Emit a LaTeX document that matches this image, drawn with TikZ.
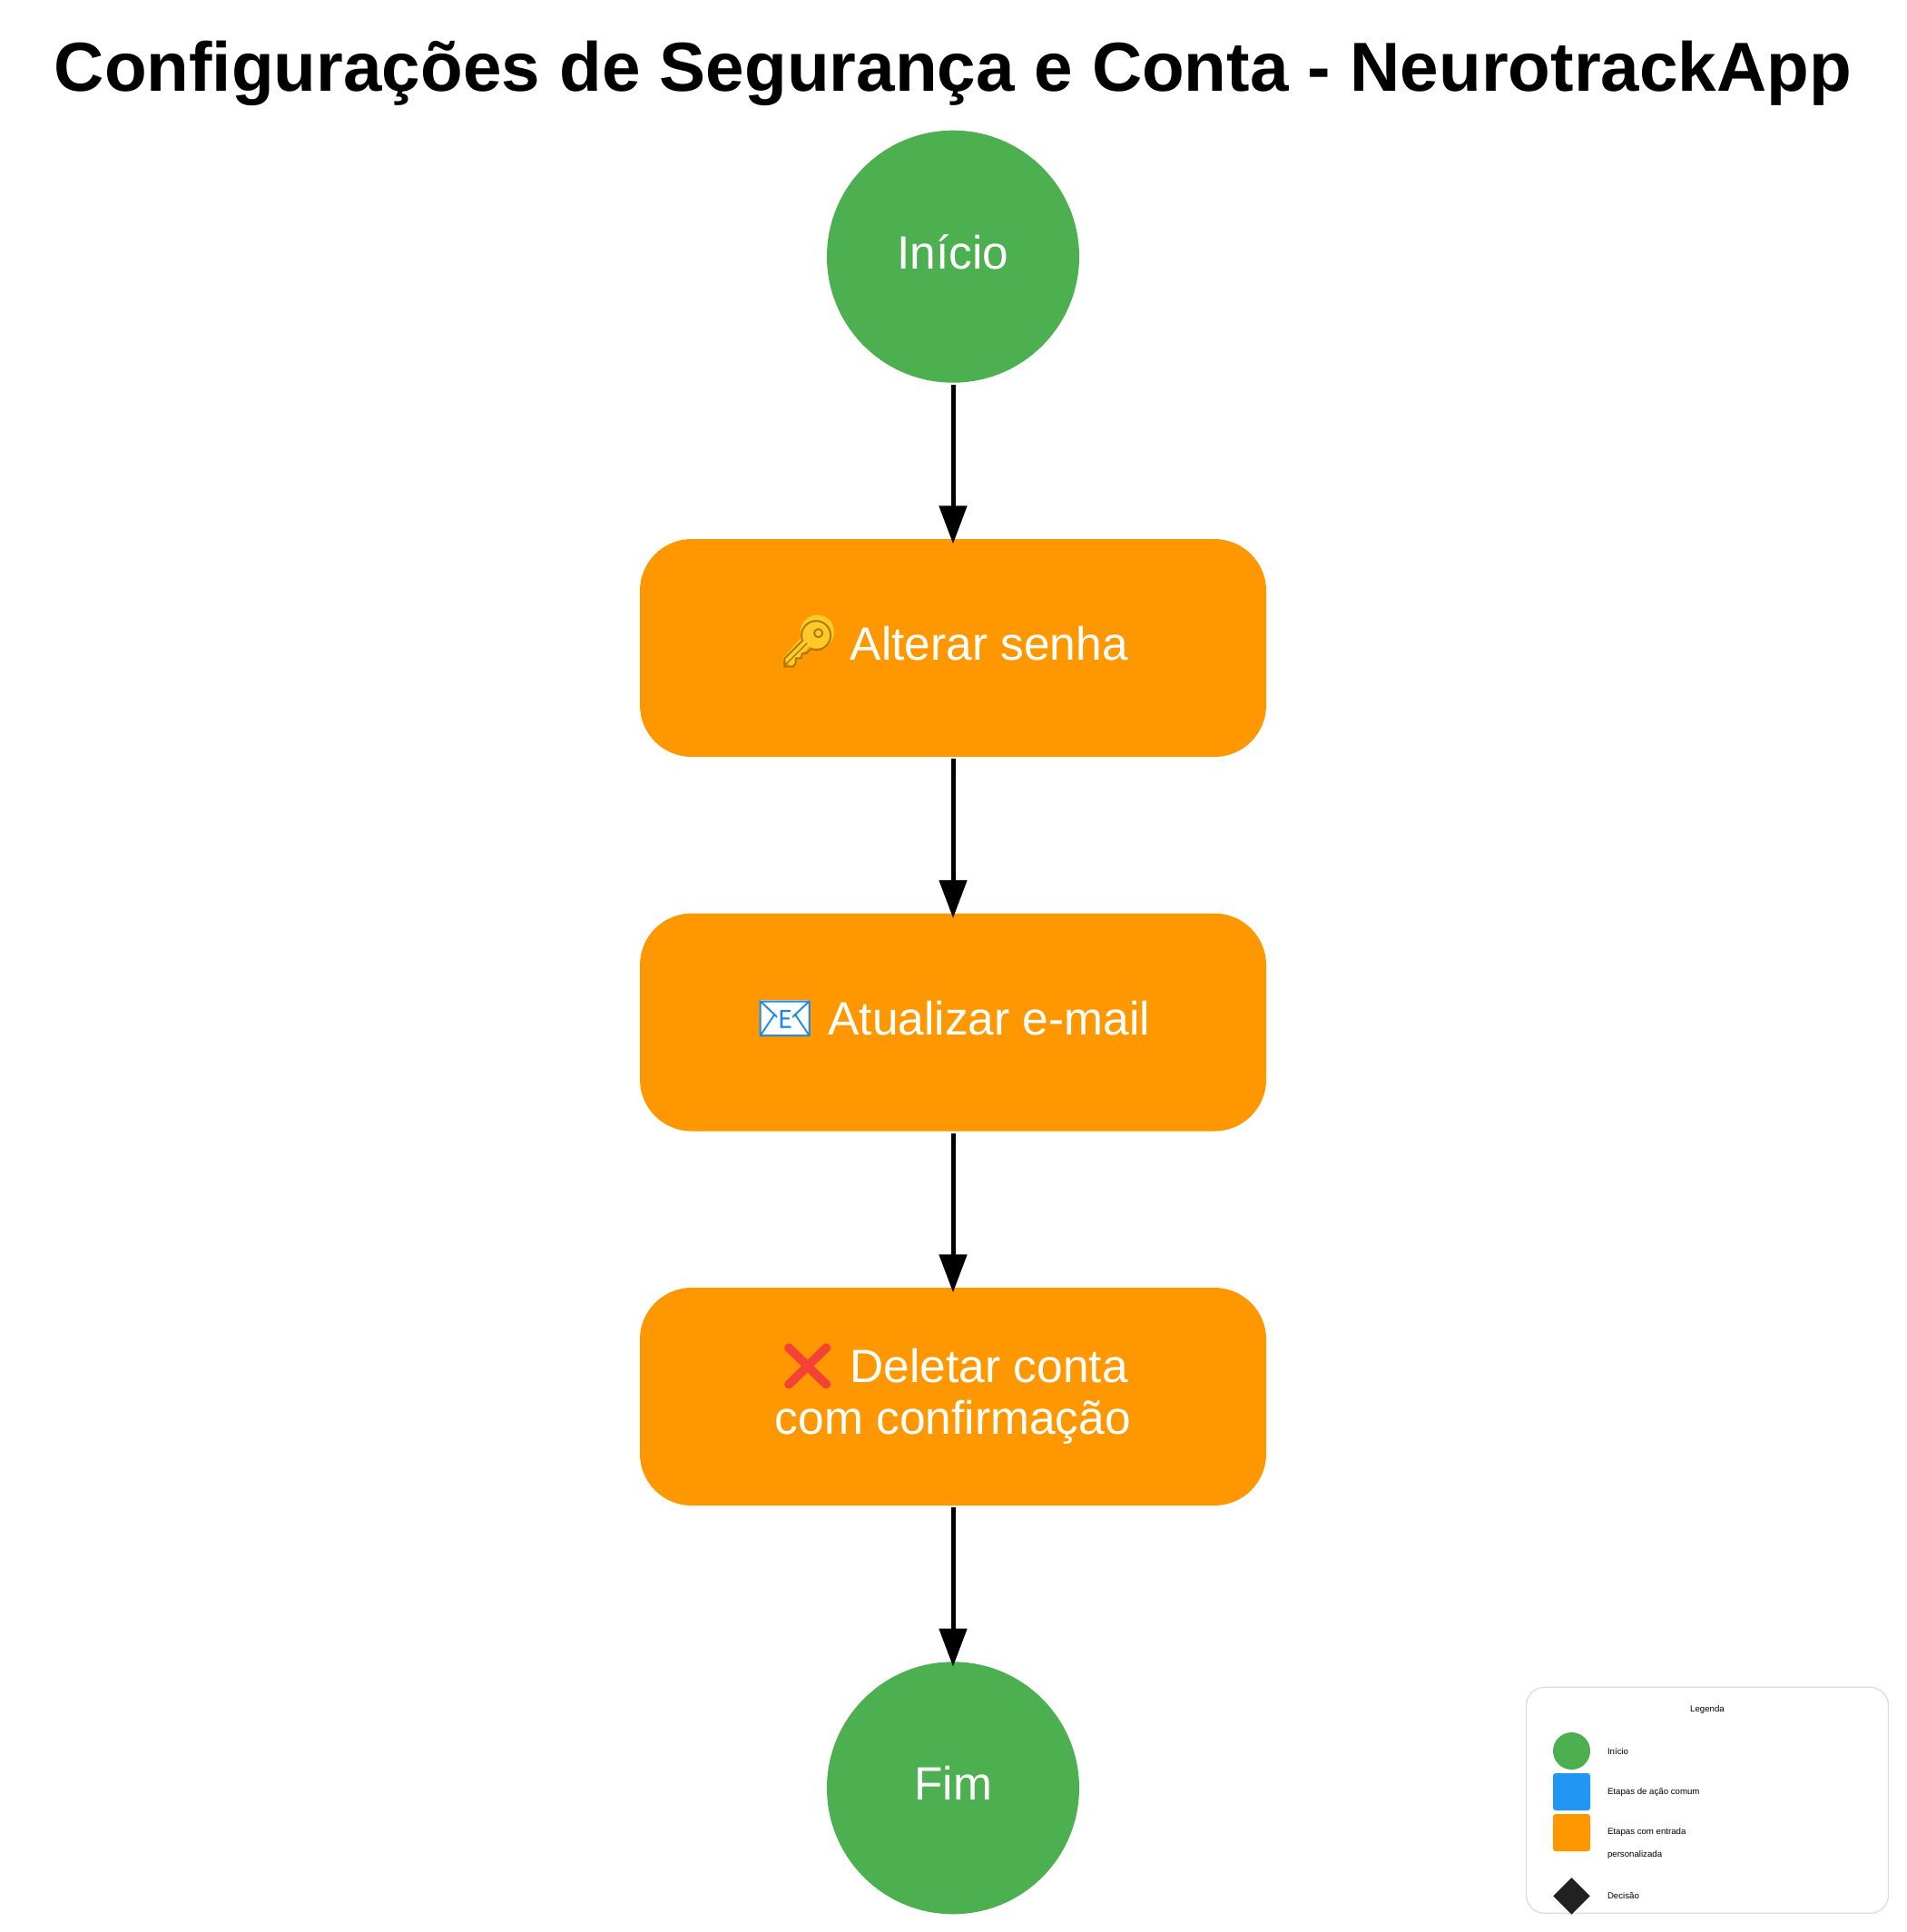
\documentclass[tikz,border=0pt]{standalone}
\usepackage{fontspec}
\setmainfont{Liberation Sans}
\newfontfamily\emojifont{Noto Emoji}
\usetikzlibrary{arrows.meta,shapes.geometric}

\definecolor{startgreen}{HTML}{4CAF50}
\definecolor{inputorange}{HTML}{FF9800}
\definecolor{actionblue}{HTML}{2196F3}
\definecolor{decisionblack}{HTML}{212121}
\definecolor{legendgray}{HTML}{DDDDDD}
\definecolor{keygold}{HTML}{FFCA28}
\definecolor{keydark}{HTML}{A8770A}
\definecolor{mailblue}{HTML}{1E88E5}
\definecolor{crossred}{HTML}{F44336}

\tikzset{
	bignode/.style={text=white,font=\fontsize{14.65pt}{16.2pt}\selectfont,align=center,inner sep=0pt},
	endpoint/.style={bignode,circle,fill=startgreen,minimum size=27.8mm},
	stepbox/.style={bignode,rectangle,fill=inputorange,rounded corners=5.7mm,minimum width=69mm,minimum height=24mm},
	flow/.style={line width=0.5mm,-{Triangle[length=4.2mm,width=3mm]},shorten <=0.16mm,shorten >=-0.6mm},
	legendtext/.style={font=\fontsize{2.75pt}{7.25pt}\selectfont,inner sep=0pt,align=left},
	legendswatch/.style={inner sep=0pt,minimum width=4.1mm,minimum height=4.1mm}
}
\newcommand{\onbase}[1]{\raisebox{-1.35mm}[0pt][0pt]{#1}}

\begin{document}
\begin{tikzpicture}

	\useasboundingbox (0,0) rectangle (21,-21.29);

	\node[font=\bfseries\fontsize{21.76pt}{24pt}\selectfont,inner sep=0pt,anchor=base] at (10.5,-1.003) (title) {Configurações de Segurança e Conta - NeurotrackApp};

	\node[endpoint] at (10.5,-2.827) (inicio) {\onbase{Início}};

	% key and envelope get a fill under their outline glyphs
	\node[stepbox,path picture={
		\fill[keygold,sharp corners] ([xshift=-14.95mm,yshift=1.8mm]path picture bounding box.center) circle (1.85mm);
		\draw[keygold,sharp corners,line width=1.3mm] ([xshift=-15.5mm,yshift=1.5mm]path picture bounding box.center) -- ([xshift=-18.3mm,yshift=-1.6mm]path picture bounding box.center);
	}] at (10.5,-7.14) (senha) {\onbase{\smash{\textcolor{keydark}{\emojifont 🔑}} Alterar senha}};
	\node[stepbox,path picture={
		\fill[white,sharp corners] ([xshift=-21.2mm,yshift=2.5mm]path picture bounding box.center) rectangle ([xshift=-15.9mm,yshift=-1.3mm]path picture bounding box.center);
	}] at (10.5,-11.265) (email) {\onbase{\smash{\textcolor{mailblue}{\emojifont 📧}} Atualizar e-mail}};
	\node[stepbox] at (10.5,-15.39) (conta) {\smash{\textcolor{crossred}{\emojifont ❌}} Deletar conta\\com confirmação};

	\node[endpoint] at (10.5,-19.703) (fim) {\onbase{Fim}};

	\draw[flow] (inicio) to (senha);
	\draw[flow] (senha) to (email);
	\draw[flow] (email) to (conta);
	\draw[flow] (conta) to (fim);

	% Legend

	\node[draw=legendgray,fill=white,line width=0.13mm,rounded corners=2mm,minimum width=39.9mm,minimum height=24.9mm,inner sep=0pt] at (18.81,-19.838) (legend) {};

	\node[legendtext] at (18.81,-18.84) (legendtitle) {Legenda};

	\node[legendswatch,circle,fill=startgreen] at (17.315,-19.295) (swatch1) {};
	\node[legendswatch,rectangle,rounded corners=0.3mm,fill=actionblue] at (17.315,-19.745) (swatch2) {};
	\node[legendswatch,rectangle,rounded corners=0.3mm,fill=inputorange] at (17.315,-20.195) (swatch3) {};
	\node[legendswatch,diamond,aspect=1,fill=decisionblack] at (17.315,-20.893) (swatch4) {};

	\node[legendtext,anchor=west] at (17.703,-19.295) (label1) {Início};
	\node[legendtext,anchor=west] at (17.703,-19.745) (label2) {Etapas de ação comum};
	\node[legendtext,anchor=west] at (17.703,-20.317) (label3) {Etapas com entrada\\personalizada};
	\node[legendtext,anchor=west] at (17.703,-20.893) (label4) {Decisão};

\end{tikzpicture}
\end{document}
